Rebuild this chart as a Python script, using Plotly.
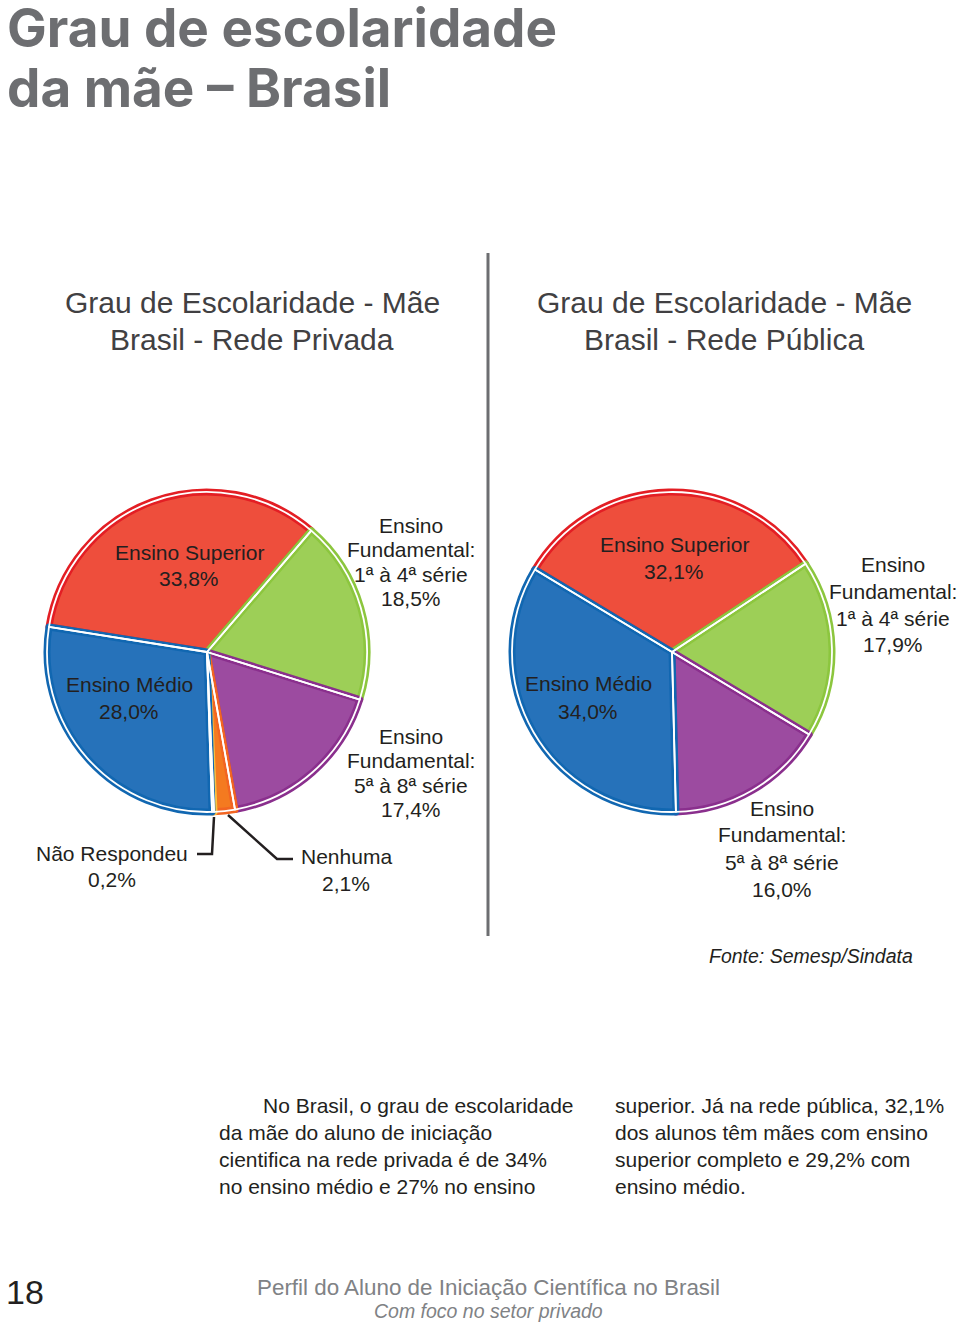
import plotly.graph_objects as go

# dados (Semesp/Sindata)
cats_privada = ["Ensino Superior", "Ensino<br>Fundamental:<br>1ª à 4ª série",
                "Ensino<br>Fundamental:<br>5ª à 8ª série", "Nenhuma",
                "Não Respondeu", "Ensino Médio"]
vals_privada = [33.8, 18.5, 17.4, 2.1, 0.2, 28.0]

cats_publica = ["Ensino Superior", "Ensino<br>Fundamental:<br>1ª à 4ª série",
                "Ensino<br>Fundamental:<br>5ª à 8ª série", "Ensino Médio"]
vals_publica = [32.1, 17.9, 16.0, 34.0]

fill = {"Ensino Superior": "#ee4e3c", "Ensino<br>Fundamental:<br>1ª à 4ª série": "#9dcf57",
        "Ensino<br>Fundamental:<br>5ª à 8ª série": "#9c4ba0", "Nenhuma": "#f47a20",
        "Não Respondeu": "#f7c242", "Ensino Médio": "#2672ba"}
edge = {"Ensino Superior": "#e31e24", "Ensino<br>Fundamental:<br>1ª à 4ª série": "#8cc63e",
        "Ensino<br>Fundamental:<br>5ª à 8ª série": "#8a2f8d", "Nenhuma": "#f26522",
        "Não Respondeu": "#f7c242", "Ensino Médio": "#1167b1"}

W, H = 960, 1322
TXT = "#231f20"
GRAY = "#6d6e71"


def px(x, y):
    return x / W, 1 - y / H


def dom(cx, cy, r):
    return dict(x=[(cx - r) / W, (cx + r) / W], y=[(H - cy - r) / H, (H - cy + r) / H])


def pct(v):
    return f"{v:.1f}".replace(".", ",") + "%"


fig = go.Figure()


def add_pie(cats, vals, cx, cy, rot):
    d = dom(cx, cy, 160)
    fig.add_trace(go.Pie(labels=cats, values=vals, sort=False, direction="clockwise",
                         rotation=rot, domain=d, textinfo="none", hoverinfo="label+value",
                         marker=dict(colors=[fill[c] for c in cats],
                                     line=dict(color=[edge[c] for c in cats], width=7))))
    fig.add_trace(go.Pie(labels=cats, values=vals, sort=False, direction="clockwise",
                         rotation=rot, domain=d, textinfo="none", hoverinfo="skip",
                         marker=dict(colors=["rgba(0,0,0,0)"] * len(cats),
                                     line=dict(color="white", width=1.8))))


add_pie(cats_privada, vals_privada, 207, 652, -81)
add_pie(cats_publica, vals_publica, 672, 652, -59)

ann = []


def text(x, y, s, size=21, color=TXT, anchor="center", family="Liberation Sans, Arial",
         italic=False, weight=None):
    fx, fy = px(x, y)
    f = dict(size=size, color=color, family=family)
    if italic:
        f["style"] = "italic"
    if weight:
        f["weight"] = weight
    ann.append(dict(x=fx, y=fy, xref="paper", yref="paper", text=s, showarrow=False,
                    xanchor=anchor, yanchor="middle", font=f))


def label(cat, val, x, y0, step):
    lines = cat.split("<br>") + [pct(val)]
    for i, ln in enumerate(lines):
        text(x, y0 + i * step, ln)


# rótulos pizza privada
pos_privada = [(189, 552, 26), (411, 525, 24.5), (411, 736, 24.5),
               (346, 856, 27), (112, 853, 27), (129, 685, 26.5)]
for c, v, p in zip(cats_privada, vals_privada, pos_privada):
    label(c, v, *p)

pos_publica = [(674, 544, 27), (893, 565, 26.5), (782, 808, 27), (588, 684, 27)]
for c, v, p in zip(cats_publica, vals_publica, pos_publica):
    label(c, v, *p)

# titulo
text(5, 28, "Grau de escolaridade", size=53, color=GRAY, anchor="left",
     family="Inter, Lato, sans-serif", weight=700)
text(5, 88, "da mãe – Brasil", size=53, color=GRAY, anchor="left",
     family="Inter, Lato, sans-serif", weight=700)

# subtitulos
text(252, 302, "Grau de Escolaridade - Mãe", size=30, color="#414042")
text(252, 339, "Brasil - Rede Privada", size=30, color="#414042")
text(724, 302, "Grau de Escolaridade - Mãe", size=30, color="#414042")
text(724, 339, "Brasil - Rede Pública", size=30, color="#414042")

text(811, 956, "Fonte: Semesp/Sindata", size=19.5, italic=True)

left_col = ["da mãe do aluno de iniciação",
            "cientifica na rede privada é de 34%",
            "no ensino médio e 27% no ensino"]
right_col = ["superior. Já na rede pública, 32,1%",
             "dos alunos têm mães com ensino",
             "superior completo e 29,2% com",
             "ensino médio."]
text(261, 1105, "No Brasil, o grau de escolaridade", size=21, anchor="left")
for i, s in enumerate(left_col):
    text(217, 1132 + i * 27, s, size=21, anchor="left")
for i, s in enumerate(right_col):
    text(613, 1105 + i * 27, s, size=21, anchor="left")

# rodape
text(4, 1292, "18", size=34, anchor="left", family="Liberation Sans Narrow, Liberation Sans")
text(488, 1287, "Perfil do Aluno de Iniciação Científica no Brasil", size=22.4, color="#808285",
     family="Liberation Sans Narrow, Liberation Sans")
text(488, 1311, "Com foco no setor privado", size=19.5, color="#808285", italic=True,
     family="Liberation Sans Narrow, Liberation Sans")

shapes = [
    dict(type="line", xref="paper", yref="paper", x0=488 / W, x1=488 / W,
         y0=1 - 253 / H, y1=1 - 936 / H, line=dict(color=GRAY, width=3)),
    # linhas de chamada
    dict(type="path", xref="paper", yref="paper",
         path=f"M {214 / W} {1 - 817 / H} L {212 / W} {1 - 854 / H} L {197 / W} {1 - 854 / H}",
         line=dict(color=TXT, width=2.5)),
    dict(type="path", xref="paper", yref="paper",
         path=f"M {228 / W} {1 - 815 / H} L {277 / W} {1 - 859 / H} L {293 / W} {1 - 859 / H}",
         line=dict(color=TXT, width=2.5)),
]

fig.update_layout(width=W, height=H, margin=dict(l=0, r=0, t=0, b=0),
                  paper_bgcolor="white", plot_bgcolor="white", showlegend=False,
                  annotations=ann, shapes=shapes)

fig.write_html("out.html", config={"displayModeBar": False},
               post_script="document.body.style.margin='0px';")
